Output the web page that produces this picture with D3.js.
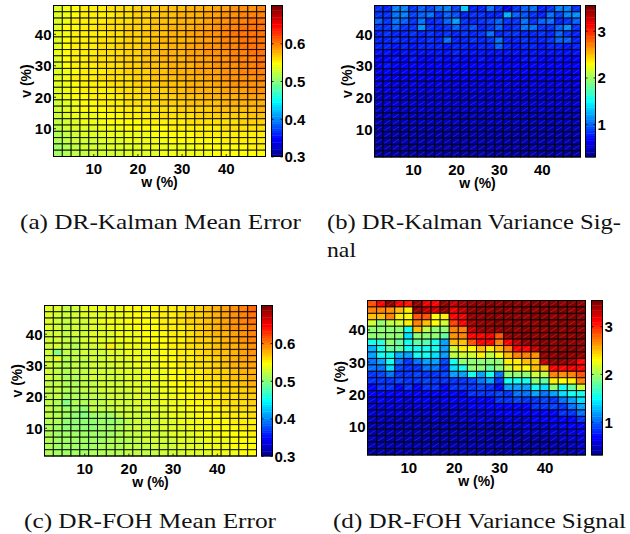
<!DOCTYPE html>
<html>
<head>
<meta charset="utf-8">
<script src="https://cdn.jsdelivr.net/npm/d3@7"></script>
<style>
  html, body { margin: 0; padding: 0; background: #fff; }
  svg { display: block; }
</style>
</head>
<body>
<svg id="fig" width="630" height="534"></svg>
<script>
// Grid cell centres (percent). Matrix rows run from the top row (v = 48) down to v = 2.
const wCenters = [2, 4, 6, 8, 10, 12, 14, 16, 18, 20, 22, 24, 26, 28, 30, 32, 34, 36, 38, 40, 42, 44, 46, 48];
const vCenters = [48, 46, 44, 42, 40, 38, 36, 34, 32, 30, 28, 26, 24, 22, 20, 18, 16, 14, 12, 10, 8, 6, 4, 2];
const axisTicks = [10, 20, 30, 40];
const meanErrorTicks = [0.3, 0.4, 0.5, 0.6];
const varianceTicks = [1, 2, 3];
const meanErrorRange = [0.3, 0.7];
const varianceRange = [0.3, 3.54];

const kalmanMeanError = [
  [.536,.541,.549,.551,.552,.554,.557,.558,.561,.563,.565,.566,.569,.571,.574,.575,.578,.580,.582,.586,.588,.590,.593,.595],
  [.535,.543,.548,.552,.553,.555,.556,.559,.560,.564,.566,.568,.570,.573,.575,.577,.579,.583,.585,.589,.592,.594,.596,.598],
  [.537,.542,.550,.551,.554,.556,.558,.560,.562,.565,.567,.569,.572,.574,.576,.579,.581,.584,.588,.591,.595,.598,.601,.600],
  [.536,.544,.549,.553,.554,.557,.559,.561,.563,.566,.568,.571,.573,.575,.578,.580,.583,.586,.590,.594,.598,.602,.604,.603],
  [.538,.543,.551,.552,.555,.556,.560,.562,.564,.565,.569,.570,.574,.576,.579,.582,.584,.588,.591,.596,.600,.603,.605,.602],
  [.537,.545,.550,.553,.556,.558,.559,.561,.565,.567,.568,.572,.575,.577,.580,.581,.585,.587,.592,.595,.599,.601,.603,.606],
  [.536,.544,.552,.554,.555,.557,.560,.563,.564,.566,.570,.571,.574,.578,.579,.583,.586,.589,.590,.594,.597,.600,.602,.604],
  [.538,.546,.551,.553,.556,.559,.561,.562,.566,.568,.569,.573,.576,.577,.581,.582,.584,.588,.591,.593,.596,.598,.601,.605],
  [.537,.545,.550,.554,.557,.558,.560,.563,.565,.567,.571,.572,.575,.578,.579,.582,.585,.587,.589,.592,.595,.597,.599,.603],
  [.536,.544,.551,.553,.555,.557,.559,.562,.564,.566,.569,.571,.574,.576,.578,.581,.583,.586,.588,.591,.593,.596,.597,.600],
  [.535,.543,.549,.552,.556,.556,.558,.561,.563,.567,.568,.570,.572,.575,.577,.579,.582,.584,.587,.590,.592,.594,.596,.598],
  [.536,.542,.550,.553,.554,.557,.558,.560,.562,.565,.567,.569,.571,.574,.576,.578,.580,.583,.586,.591,.590,.592,.593,.595],
  [.534,.541,.548,.551,.553,.555,.557,.559,.561,.564,.566,.568,.570,.572,.574,.577,.579,.581,.584,.586,.589,.588,.591,.592],
  [.533,.540,.547,.550,.552,.554,.555,.558,.560,.562,.564,.566,.568,.570,.572,.575,.577,.579,.581,.583,.585,.587,.588,.589],
  [.532,.539,.545,.548,.550,.553,.554,.556,.558,.560,.562,.565,.566,.568,.570,.572,.574,.576,.578,.580,.581,.583,.584,.585],
  [.530,.537,.543,.546,.549,.550,.552,.554,.557,.558,.559,.561,.563,.566,.567,.569,.571,.573,.574,.576,.577,.578,.579,.580],
  [.528,.535,.541,.544,.546,.548,.551,.552,.553,.555,.557,.558,.561,.562,.563,.565,.567,.568,.570,.571,.572,.573,.574,.575],
  [.526,.532,.538,.541,.543,.546,.547,.549,.551,.552,.554,.555,.557,.558,.560,.561,.563,.564,.565,.566,.567,.568,.569,.570],
  [.524,.530,.535,.538,.540,.542,.544,.546,.547,.549,.551,.552,.553,.554,.556,.557,.558,.559,.560,.561,.562,.563,.564,.565],
  [.521,.527,.532,.535,.537,.539,.541,.542,.544,.545,.547,.548,.549,.551,.552,.553,.554,.555,.556,.557,.558,.559,.560,.560],
  [.518,.524,.529,.532,.534,.536,.538,.539,.541,.542,.543,.545,.546,.547,.548,.549,.550,.551,.552,.553,.554,.555,.556,.556],
  [.515,.521,.526,.529,.531,.533,.535,.536,.538,.539,.540,.542,.543,.544,.545,.546,.547,.548,.549,.550,.551,.552,.553,.553],
  [.512,.518,.523,.526,.528,.530,.532,.533,.535,.536,.538,.539,.540,.541,.542,.543,.544,.545,.546,.547,.548,.549,.550,.550],
  [.509,.515,.520,.523,.526,.528,.530,.531,.533,.534,.536,.537,.538,.539,.540,.541,.542,.543,.544,.545,.546,.547,.548,.549]
];

const kalmanVariance = [
  [.85,.80,1.08,1.10,.82,1.00,.86,1.05,1.08,.88,1.35,.78,.80,1.02,.82,.62,.85,1.00,1.04,.80,.85,1.06,1.10,.82],
  [.82,.85,1.05,1.08,.86,1.00,1.05,.84,1.00,.95,.80,.82,.84,.80,.78,1.25,.98,.95,.84,.80,1.02,.86,1.08,1.12],
  [1.00,.82,1.05,1.00,.85,1.02,.80,.84,1.00,1.18,.82,.80,.84,.86,1.00,.82,.84,1.02,.84,1.00,1.02,.80,.82,1.00],
  [.84,.82,1.00,.85,.82,1.15,.85,.80,.82,.98,.84,.95,.80,.83,1.00,.80,.82,1.05,1.02,.82,.84,1.00,1.15,.84],
  [.80,.82,.78,.80,.83,.80,.82,.78,.84,.80,.82,.80,.84,1.02,.80,.82,.85,.78,.80,.82,.80,.98,.84,.80],
  [.78,.80,.82,.78,.80,.79,.82,.80,1.05,.80,.78,.82,.80,.84,1.04,.80,.78,.82,.80,.78,.82,1.00,.96,.80],
  [.76,.78,.74,.77,.75,.78,.76,.80,.74,.77,.79,.75,.76,.78,1.00,.77,.75,.78,.76,.74,.77,.78,.75,.76],
  [.72,.74,.70,.73,.75,.72,.74,.71,.73,.76,.72,.74,.71,.73,.74,.72,.75,.71,.73,.72,.74,.73,.72,.74],
  [.70,.68,.71,.69,.72,.70,.68,.71,.70,.73,.69,.70,.72,.68,.71,.70,.69,.71,.72,.70,.68,.71,.70,.69],
  [.68,.74,.66,.69,.67,.68,.70,.67,.68,.66,.69,.68,.67,.70,.68,.66,.69,.67,.68,.70,.67,.68,.69,.67],
  [.64,.66,.65,.63,.66,.64,.65,.67,.64,.63,.66,.64,.65,.63,.66,.65,.64,.66,.63,.65,.64,.66,.65,.64],
  [.62,.63,.61,.64,.62,.63,.61,.62,.64,.62,.61,.63,.62,.64,.61,.63,.62,.61,.63,.62,.64,.61,.63,.62],
  [.60,.61,.59,.60,.62,.60,.59,.61,.60,.58,.61,.60,.59,.61,.60,.62,.59,.60,.61,.59,.60,.61,.60,.59],
  [.57,.58,.59,.57,.58,.56,.58,.57,.59,.58,.57,.56,.58,.57,.59,.57,.58,.56,.57,.58,.57,.59,.58,.57],
  [.54,.55,.56,.54,.55,.53,.55,.54,.56,.55,.54,.53,.55,.54,.56,.54,.55,.53,.54,.55,.54,.56,.55,.54],
  [.52,.53,.51,.52,.54,.52,.51,.53,.52,.51,.53,.52,.51,.53,.52,.54,.51,.52,.53,.51,.52,.53,.52,.51],
  [.50,.49,.51,.50,.49,.51,.50,.48,.50,.49,.51,.50,.49,.50,.51,.49,.50,.48,.50,.51,.49,.50,.49,.50],
  [.47,.48,.46,.47,.48,.47,.46,.48,.47,.46,.48,.47,.46,.47,.48,.46,.47,.48,.46,.47,.48,.46,.47,.48],
  [.46,.45,.47,.46,.45,.46,.47,.45,.46,.47,.45,.46,.45,.47,.46,.45,.46,.47,.45,.46,.45,.47,.46,.45],
  [.44,.45,.44,.43,.45,.44,.43,.44,.45,.44,.43,.45,.44,.43,.44,.45,.43,.44,.45,.43,.44,.45,.44,.43],
  [.43,.42,.44,.43,.42,.43,.44,.42,.43,.42,.44,.43,.42,.43,.44,.42,.43,.42,.44,.43,.42,.43,.44,.42],
  [.42,.41,.42,.43,.41,.42,.41,.43,.42,.41,.42,.43,.41,.42,.41,.43,.42,.41,.42,.43,.41,.42,.41,.42],
  [.41,.40,.41,.42,.40,.41,.42,.40,.41,.40,.42,.41,.40,.41,.42,.40,.41,.40,.42,.41,.40,.41,.42,.40],
  [.40,.41,.40,.39,.41,.40,.39,.41,.40,.41,.39,.40,.41,.40,.39,.41,.40,.39,.41,.40,.39,.41,.40,.39]
];

const fohMeanError = [
  [.535,.532,.522,.530,.533,.540,.538,.543,.541,.545,.546,.548,.549,.552,.553,.556,.562,.566,.570,.578,.585,.590,.598,.608],
  [.533,.530,.525,.528,.532,.537,.536,.540,.542,.543,.546,.547,.550,.551,.554,.557,.563,.567,.572,.579,.584,.591,.595,.603],
  [.534,.528,.524,.527,.530,.534,.538,.539,.543,.544,.545,.549,.548,.553,.555,.558,.564,.568,.573,.578,.586,.589,.596,.600],
  [.532,.529,.523,.526,.529,.536,.535,.538,.540,.542,.544,.546,.547,.550,.553,.556,.562,.566,.571,.577,.583,.588,.593,.598],
  [.531,.527,.522,.525,.528,.533,.534,.537,.539,.541,.543,.545,.546,.549,.552,.555,.561,.565,.569,.575,.580,.586,.590,.596],
  [.530,.526,.521,.523,.527,.532,.533,.535,.538,.540,.542,.544,.545,.548,.551,.554,.559,.563,.567,.573,.578,.583,.588,.594],
  [.530,.528,.520,.518,.526,.531,.532,.552,.537,.539,.541,.543,.544,.547,.550,.553,.557,.561,.566,.571,.576,.581,.586,.592],
  [.529,.497,.519,.522,.525,.530,.531,.533,.536,.538,.540,.542,.543,.546,.549,.552,.556,.560,.564,.569,.574,.579,.584,.589],
  [.528,.536,.518,.521,.524,.529,.530,.532,.535,.537,.539,.541,.542,.545,.548,.551,.555,.558,.562,.567,.572,.577,.582,.587],
  [.527,.524,.517,.520,.523,.528,.529,.531,.533,.536,.538,.540,.541,.544,.547,.550,.553,.557,.561,.565,.570,.575,.579,.584],
  [.526,.523,.516,.519,.522,.526,.528,.530,.532,.535,.537,.539,.540,.543,.546,.549,.552,.555,.559,.563,.568,.572,.576,.581],
  [.525,.522,.515,.518,.521,.525,.527,.529,.531,.534,.536,.538,.539,.542,.545,.548,.551,.554,.557,.561,.566,.570,.574,.578],
  [.524,.521,.514,.517,.520,.524,.526,.528,.530,.533,.535,.537,.538,.541,.544,.547,.550,.553,.556,.559,.563,.567,.571,.575],
  [.523,.520,.513,.516,.519,.523,.525,.527,.529,.531,.534,.536,.537,.540,.543,.546,.549,.551,.554,.557,.561,.565,.568,.572],
  [.522,.519,.512,.515,.518,.522,.524,.526,.528,.530,.533,.535,.536,.539,.542,.544,.547,.550,.553,.556,.559,.562,.565,.568],
  [.521,.518,.495,.514,.517,.521,.523,.525,.527,.529,.532,.534,.535,.538,.541,.543,.546,.548,.551,.554,.557,.560,.562,.565],
  [.520,.516,.510,.512,.505,.519,.521,.523,.525,.528,.530,.532,.534,.537,.539,.542,.544,.546,.549,.552,.554,.557,.559,.562],
  [.519,.515,.508,.506,.498,.507,.512,.508,.522,.526,.528,.531,.533,.535,.538,.540,.542,.545,.547,.549,.552,.554,.556,.559],
  [.518,.513,.506,.503,.500,.502,.509,.506,.512,.524,.527,.529,.531,.534,.536,.539,.541,.543,.545,.547,.549,.551,.553,.556],
  [.517,.512,.505,.505,.503,.506,.508,.507,.515,.522,.525,.528,.530,.532,.535,.537,.539,.541,.543,.545,.547,.549,.551,.553],
  [.516,.510,.507,.508,.507,.509,.511,.510,.514,.520,.524,.526,.528,.531,.533,.535,.537,.539,.541,.543,.545,.547,.549,.551],
  [.515,.509,.509,.510,.509,.511,.512,.513,.515,.518,.522,.525,.527,.529,.531,.533,.535,.537,.539,.541,.543,.545,.547,.549],
  [.514,.508,.510,.511,.510,.512,.513,.514,.516,.519,.521,.523,.525,.528,.530,.532,.534,.536,.538,.540,.542,.544,.546,.548],
  [.513,.507,.511,.512,.511,.513,.514,.515,.517,.519,.521,.522,.524,.526,.528,.530,.532,.534,.536,.538,.540,.542,.544,.546]
];

const fohVariance = [
  [2.88,3.10,3.44,3.12,3.05,3.45,3.14,3.10,3.46,3.30,3.42,3.48,3.47,3.50,3.46,3.49,3.48,3.45,3.50,3.47,3.49,3.46,3.50,3.48],
  [2.70,2.72,2.66,2.52,2.36,3.44,3.30,3.28,3.45,3.14,3.32,3.47,3.49,3.46,3.50,3.48,3.47,3.50,3.46,3.49,3.48,3.50,3.47,3.49],
  [2.50,2.52,2.68,2.34,2.32,2.88,2.85,2.30,2.35,3.12,3.15,3.44,3.47,3.49,3.46,3.50,3.48,3.47,3.49,3.50,3.46,3.48,3.50,3.47],
  [2.14,1.95,2.12,2.15,2.33,2.68,2.50,2.32,2.13,2.90,3.12,3.42,3.46,3.48,3.50,3.47,3.49,3.46,3.48,3.50,3.47,3.49,3.46,3.48],
  [1.96,1.94,1.97,1.95,1.55,2.50,2.12,1.96,1.94,2.68,2.70,3.30,3.45,3.47,3.44,3.49,3.48,3.50,3.46,3.47,3.49,3.48,3.50,3.46],
  [1.95,1.96,1.93,1.97,1.40,1.95,1.94,1.96,1.78,2.66,2.70,3.12,3.10,3.14,2.88,3.44,3.47,3.49,3.48,3.46,3.50,3.47,3.48,3.49],
  [1.55,1.57,1.94,1.78,1.55,1.80,1.76,1.54,1.20,2.50,2.52,2.88,3.10,3.12,2.68,3.12,3.30,3.46,3.48,3.50,3.47,3.49,3.46,3.48],
  [1.22,1.55,1.78,1.80,1.56,1.54,1.56,1.55,1.18,2.13,2.33,2.32,2.50,2.34,2.52,2.68,3.10,3.12,3.30,3.45,3.48,3.47,3.49,3.46],
  [1.20,1.53,1.55,1.22,1.19,1.55,1.54,1.38,1.20,2.12,2.14,2.13,2.33,2.12,2.32,2.50,2.68,2.70,2.66,3.44,3.47,3.49,3.46,3.45],
  [1.04,1.20,1.55,1.02,0.85,1.03,1.20,1.19,0.86,1.55,1.95,1.94,1.96,1.95,1.93,2.33,2.35,2.50,2.52,3.30,3.44,3.46,3.42,3.12],
  [1.02,1.03,1.38,0.86,0.84,0.85,1.03,1.02,0.84,1.38,1.55,1.95,1.94,1.78,1.96,2.13,2.33,2.32,2.50,2.52,3.10,3.12,3.14,3.12],
  [0.85,0.86,1.03,0.84,0.85,0.86,0.84,0.85,0.86,1.20,1.18,1.55,1.20,1.55,1.03,1.95,1.94,1.96,2.13,2.12,2.68,2.66,2.70,2.88],
  [0.84,0.85,0.83,0.86,0.84,0.85,0.86,0.84,0.83,0.85,0.84,0.86,1.03,1.20,0.85,1.55,1.56,1.54,1.95,1.78,2.33,2.32,2.34,2.68],
  [0.68,0.84,0.85,0.68,0.84,0.69,0.85,0.84,0.68,0.83,0.85,0.84,0.86,0.85,0.68,1.20,1.18,1.21,1.55,1.38,1.95,1.55,1.78,2.13],
  [0.68,0.67,0.69,0.68,0.67,0.69,0.68,0.67,0.68,0.69,0.67,0.84,0.85,0.83,0.86,0.84,1.03,1.02,1.20,1.03,1.20,1.38,1.55,1.56],
  [0.55,0.68,0.56,0.67,0.55,0.68,0.67,0.56,0.68,0.69,0.67,0.68,0.69,0.68,0.84,0.85,0.86,0.84,0.85,0.86,0.85,1.03,1.20,1.38],
  [0.55,0.54,0.56,0.55,0.54,0.55,0.56,0.55,0.54,0.56,0.55,0.68,0.67,0.69,0.68,0.67,0.68,0.69,0.84,0.85,0.86,0.84,1.03,1.20],
  [0.54,0.55,0.54,0.56,0.55,0.54,0.55,0.56,0.54,0.55,0.56,0.55,0.54,0.56,0.68,0.67,0.68,0.69,0.67,0.68,0.69,0.85,0.84,1.03],
  [0.45,0.46,0.44,0.45,0.46,0.45,0.44,0.55,0.45,0.46,0.54,0.55,0.56,0.54,0.55,0.56,0.55,0.54,0.68,0.67,0.69,0.68,0.67,0.85],
  [0.44,0.45,0.46,0.44,0.45,0.46,0.45,0.44,0.46,0.45,0.44,0.45,0.46,0.44,0.45,0.55,0.54,0.56,0.55,0.54,0.56,0.68,0.69,0.68],
  [0.43,0.44,0.45,0.43,0.44,0.45,0.43,0.44,0.45,0.43,0.44,0.43,0.45,0.44,0.43,0.45,0.44,0.55,0.54,0.55,0.56,0.55,0.56,0.68],
  [0.42,0.43,0.42,0.44,0.43,0.42,0.44,0.43,0.42,0.43,0.44,0.42,0.43,0.42,0.44,0.43,0.42,0.44,0.43,0.45,0.46,0.55,0.54,0.56],
  [0.41,0.42,0.43,0.41,0.42,0.43,0.41,0.42,0.43,0.42,0.41,0.43,0.42,0.41,0.43,0.42,0.41,0.43,0.42,0.44,0.43,0.45,0.46,0.55],
  [0.40,0.41,0.40,0.42,0.41,0.40,0.42,0.41,0.40,0.41,0.42,0.40,0.41,0.42,0.40,0.41,0.42,0.40,0.41,0.43,0.42,0.44,0.45,0.46]
];

const captionLines = [
  "(a) DR-Kalman Mean Error",
  "(b) DR-Kalman Variance Sig-",
  "nal",
  "(c) DR-FOH Mean Error",
  "(d) DR-FOH Variance Signal"
];

// 64-step jet colour map
function jet(t) {
  const c = v => Math.max(0, Math.min(1, v));
  return d3.rgb(
    255 * c(1.5 - Math.abs(4 * t - 3)),
    255 * c(1.5 - Math.abs(4 * t - 2)),
    255 * c(1.5 - Math.abs(4 * t - 1))
  ).formatHex();
}
const jet64 = d3.range(64).map(i => jet((i + 1) / 64));

const panels = [
  { values: kalmanMeanError, range: meanErrorRange, ticks: meanErrorTicks, fmt: d3.format(".1f"),
    plot: { left: 53.5, right: 265.5, top: 5.5, bottom: 156.5 }, bar: { left: 271.5, right: 282.5 } },
  { values: kalmanVariance, range: varianceRange, ticks: varianceTicks, fmt: d3.format("d"),
    plot: { left: 374.5, right: 580.5, top: 5.5, bottom: 157 }, bar: { left: 585.5, right: 595.5 } },
  { values: fohMeanError, range: meanErrorRange, ticks: meanErrorTicks, fmt: d3.format(".1f"),
    plot: { left: 44.5, right: 256.5, top: 305.5, bottom: 456 }, bar: { left: 261.5, right: 272.5 } },
  { values: fohVariance, range: varianceRange, ticks: varianceTicks, fmt: d3.format("d"),
    plot: { left: 367.5, right: 585.5, top: 300.5, bottom: 455 }, bar: { left: 591.5, right: 602.5 } }
];

const svg = d3.select("#fig");
svg.append("rect").attr("width", 630).attr("height", 534).attr("fill", "#fff");

const sansBold = "'Liberation Sans', Arial, Helvetica, sans-serif";

function styleAxis(sel) {
  sel.select(".domain").remove();
  sel.selectAll(".tick line").attr("stroke", "#000").attr("stroke-width", 0.8);
  sel.selectAll(".tick text")
    .attr("fill", "#000")
    .style("font-family", sansBold)
    .style("font-weight", "bold")
    .style("font-size", "15px");
}

function drawPanel(p) {
  const g = svg.append("g");
  const x = d3.scaleLinear().domain([1, 49]).range([p.plot.left, p.plot.right]);
  const y = d3.scaleLinear().domain([1, 49]).range([p.plot.bottom, p.plot.top]);
  const color = d3.scaleQuantize().domain(p.range).range(jet64);

  const cells = [];
  p.values.forEach((row, i) => row.forEach((val, j) => cells.push({ w: wCenters[j], v: vCenters[i], val })));

  const cellG = g.append("g");
  cellG.selectAll("rect").data(cells).join("rect")
    .attr("x", d => x(d.w - 1))
    .attr("y", d => y(d.v + 1))
    .attr("width", d => x(d.w + 1) - x(d.w - 1))
    .attr("height", d => y(d.v - 1) - y(d.v + 1))
    .attr("fill", d => color(d.val))
    .attr("stroke", "#000")
    .attr("stroke-opacity", 0.85)
    .attr("stroke-width", 1);

  // faint diagonal sheen across each patch
  cellG.selectAll("line").data(cells).join("line")
    .attr("x1", d => x(d.w - 1) + 1.2)
    .attr("y1", d => y(d.v - 1) - 1.2)
    .attr("x2", d => x(d.w + 1) - 1.2)
    .attr("y2", d => y(d.v + 1) + 1.2)
    .attr("stroke", "#fff")
    .attr("stroke-opacity", 0.2)
    .attr("stroke-width", 0.7);

  // axes
  const ax = g.append("g").attr("transform", `translate(0,${p.plot.bottom})`)
    .call(d3.axisBottom(x).tickValues(axisTicks).tickSize(-2.5).tickPadding(7).tickFormat(d3.format("d")));
  styleAxis(ax);
  const ay = g.append("g").attr("transform", `translate(${p.plot.left},0)`)
    .call(d3.axisLeft(y).tickValues(axisTicks).tickSize(-2.5).tickPadding(2).tickFormat(d3.format("d")));
  styleAxis(ay);
  ay.selectAll(".tick text").attr("dy", "0.36em");

  g.append("rect")
    .attr("x", p.plot.left).attr("y", p.plot.top)
    .attr("width", p.plot.right - p.plot.left).attr("height", p.plot.bottom - p.plot.top)
    .attr("fill", "none").attr("stroke", "#000").attr("stroke-width", 1);

  // axis titles
  g.append("text")
    .attr("x", (p.plot.left + p.plot.right) / 2)
    .attr("y", p.plot.bottom + 30.5)
    .attr("text-anchor", "middle")
    .style("font-family", sansBold).style("font-weight", "bold").style("font-size", "14px")
    .text("w (%)");
  g.append("text")
    .attr("transform", `translate(${p.plot.left - 28},${(p.plot.top + p.plot.bottom) / 2}) rotate(-90)`)
    .attr("text-anchor", "middle")
    .attr("dy", "0.36em")
    .style("font-family", sansBold).style("font-weight", "bold").style("font-size", "14px")
    .text("v (%)");

  // colour bar
  const cb = d3.scaleLinear().domain(p.range).range([p.plot.bottom, p.plot.top]);
  const step = (p.range[1] - p.range[0]) / 64;
  const barG = g.append("g");
  barG.selectAll("rect").data(jet64).join("rect")
    .attr("x", p.bar.left)
    .attr("y", (d, i) => cb(p.range[0] + (i + 1) * step))
    .attr("width", p.bar.right - p.bar.left)
    .attr("height", (d, i) => cb(p.range[0] + i * step) - cb(p.range[0] + (i + 1) * step) + 0.4)
    .attr("fill", d => d);
  const cr = g.append("g").attr("transform", `translate(${p.bar.right},0)`)
    .call(d3.axisRight(cb).tickValues(p.ticks).tickSize(-2).tickPadding(2).tickFormat(p.fmt));
  styleAxis(cr);
  cr.selectAll(".tick text").attr("dy", "0.36em");
  const cl = g.append("g").attr("transform", `translate(${p.bar.left},0)`)
    .call(d3.axisLeft(cb).tickValues(p.ticks).tickSize(-2).tickFormat(""));
  styleAxis(cl);
  g.append("rect")
    .attr("x", p.bar.left).attr("y", p.plot.top)
    .attr("width", p.bar.right - p.bar.left).attr("height", p.plot.bottom - p.plot.top)
    .attr("fill", "none").attr("stroke", "#000").attr("stroke-width", 1);
}

panels.forEach(drawPanel);

// sub-figure captions
const captionPos = [
  { x: 20, y: 229, len: 281 },
  { x: 327, y: 229, len: 294 },
  { x: 327, y: 257, len: 29 },
  { x: 24, y: 528, len: 252 },
  { x: 333, y: 528, len: 293 }
];
svg.append("g").selectAll("text").data(captionLines).join("text")
  .attr("x", (d, i) => captionPos[i].x)
  .attr("y", (d, i) => captionPos[i].y)
  .attr("textLength", (d, i) => captionPos[i].len)
  .attr("lengthAdjust", "spacingAndGlyphs")
  .style("font-family", "'Liberation Serif', 'DejaVu Serif', serif")
  .style("font-size", "21px")
  .attr("fill", "#111")
  .text(d => d);
</script>
</body>
</html>
